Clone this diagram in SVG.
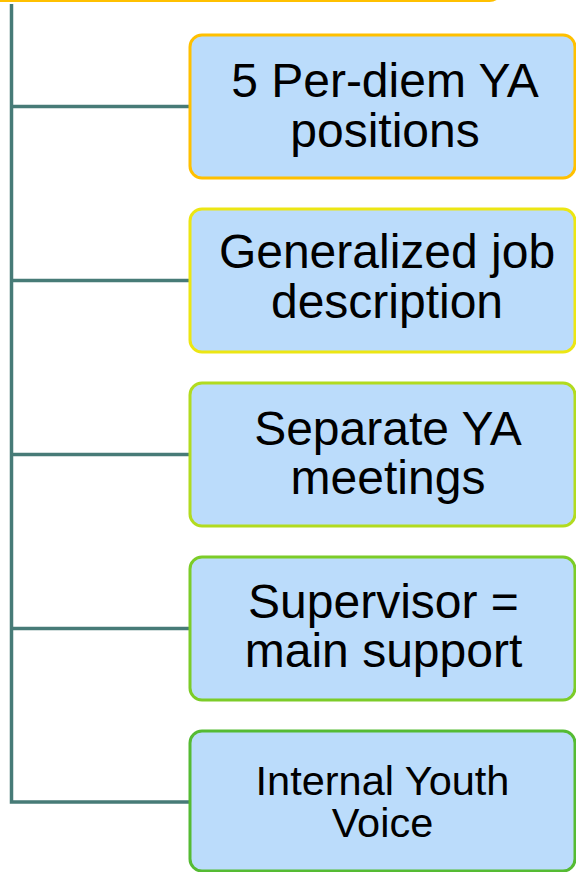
<svg xmlns="http://www.w3.org/2000/svg" width="576" height="872" viewBox="0 0 576 872">
<style>
.box{fill:#BBDCFB;stroke-width:3}
.conn{stroke:#477B77;stroke-width:3.5;fill:none}
.t{font-family:"Liberation Sans",Arial,sans-serif;font-size:48px;fill:#000;text-anchor:middle}
.t5{font-size:41.5px}
</style>
<rect width="576" height="872" fill="#FFFFFF"/>
<g id="top">
<rect x="-20" y="-100" width="521.5" height="100.5" rx="12" fill="#BBDCFB" stroke="#FFC000" stroke-width="3"/>
</g>
<g id="connectors">
<path class="conn" d="M11.5 4 V802 H190"/>
<path class="conn" d="M11.5 106.5 H190"/>
<path class="conn" d="M11.5 280.5 H190"/>
<path class="conn" d="M11.5 454.5 H190"/>
<path class="conn" d="M11.5 628.5 H190"/>
</g>
<g id="n1">
<rect class="box" x="190" y="35" width="385" height="143" rx="12" stroke="#FFC000"/>
<text class="t" x="385" y="96.5">5 Per-diem YA</text>
<text class="t" x="385" y="146.5">positions</text>
</g>
<g id="n2">
<rect class="box" x="190" y="209" width="385" height="143" rx="12" stroke="#ECE613"/>
<text class="t" x="387" y="268">Generalized job</text>
<text class="t" x="387" y="318">description</text>
</g>
<g id="n3">
<rect class="box" x="190" y="383" width="385" height="143" rx="12" stroke="#B2DB1F"/>
<text class="t" x="388" y="444.5">Separate YA</text>
<text class="t" x="388" y="493.5">meetings</text>
</g>
<g id="n4">
<rect class="box" x="190" y="557" width="385" height="143" rx="12" stroke="#7CCC28"/>
<text class="t" x="383.5" y="618">Supervisor =</text>
<text class="t" x="383.5" y="667">main support</text>
</g>
<g id="n5">
<rect class="box" x="190" y="731" width="385" height="140" rx="12" stroke="#55BB33"/>
<text class="t t5" x="382.5" y="795">Internal Youth</text>
<text class="t t5" x="382.5" y="837">Voice</text>
</g>
</svg>
